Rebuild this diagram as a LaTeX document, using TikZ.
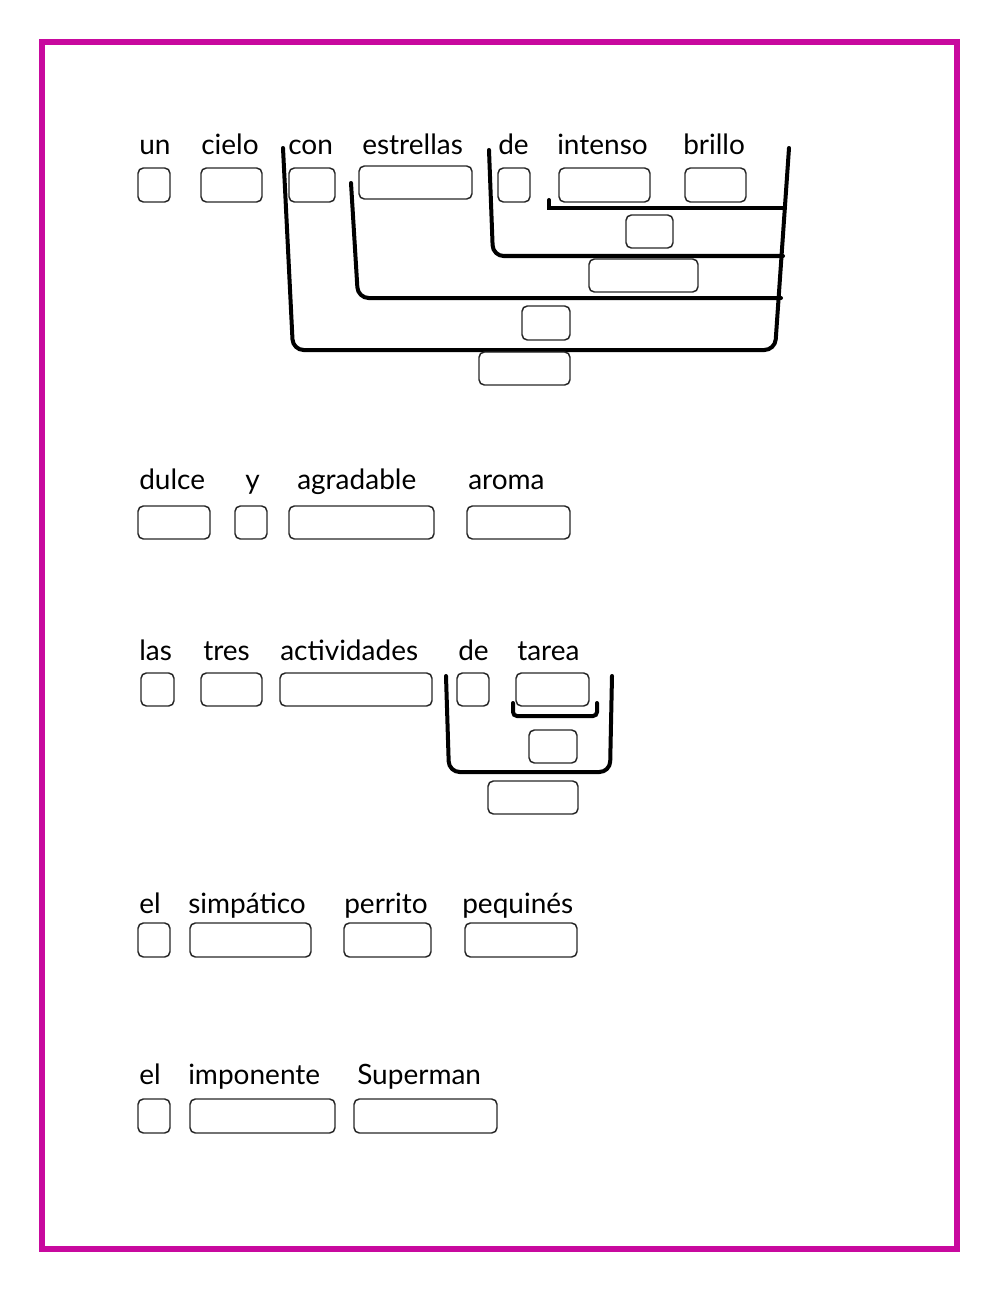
\documentclass[tikz,border=0pt]{standalone}
\usepackage{fontspec}
\setmainfont{Lato}
\begin{document}
\begin{tikzpicture}[x=0.75pt,y=-0.75pt,
  bx/.style={draw=black!85,line width=1.1pt,rounded corners=4pt},
  br/.style={line width=3pt,rounded corners=8pt,line cap=round},
  wd/.style={anchor=base west,inner sep=0pt,font=\fontsize{21}{24}\selectfont}]
\useasboundingbox (0,0) rectangle (1000,1291);
\definecolor{mag}{HTML}{C8099E}
\draw[mag,line width=4.5pt] (42,42) rectangle (957,1249);
\newcommand\bx[4]{\draw[bx] (#1,#2) rectangle (#3,#4);}
% row 1
\foreach \t/\x in {un/139,cielo/201,con/288,estrellas/362,de/498,intenso/557,brillo/683}
  \node[wd] (w1\t) at (\x,155) {\t};
\bx{138}{168}{170}{202}\bx{201}{168}{262}{202}\bx{289}{168}{335}{202}\bx{359}{166}{472}{199}
\bx{498}{168}{530}{202}\bx{559}{168}{650}{202}\bx{685}{168}{746}{202}
\draw[br] (283,148) -- (293,350) -- (775,350) -- (789,148);
\draw[br] (351,183) -- (358,298) -- (781,298);
\draw[br] (489,150) -- (493,256) -- (783,256);
\draw[br,rounded corners=0pt] (549,200) -- (549,208) -- (785,208);
\bx{626}{215}{673}{248}\bx{589}{259}{698}{292}\bx{522}{306}{570}{340}\bx{479}{352}{570}{385}
% row 2
\foreach \t/\x in {dulce/139,y/245,agradable/297,aroma/468}
  \node[wd] (w2\t) at (\x,489) {\t};
\bx{138}{506}{210}{539}\bx{235}{506}{267}{539}\bx{289}{506}{434}{539}\bx{467}{506}{570}{539}
% row 3
\foreach \t/\x in {las/139,tres/203,actividades/280,de/458,tarea/517}
  \node[wd] (w3\t) at (\x,660) {\t};
\bx{141}{673}{174}{706}\bx{201}{673}{262}{706}\bx{280}{673}{432}{706}\bx{457}{673}{489}{706}\bx{516}{673}{589}{706}
\draw[br] (446,676) -- (449,772) -- (610,772) -- (612,676);
\draw[br,rounded corners=3pt] (513,703) -- (513,716) -- (597,716) -- (597,703);
\bx{529}{730}{577}{763}\bx{488}{781}{578}{814}
% row 4
\node[wd] (w4a) at (139,913) {el};
\node[wd] (w4b) at (188,913) {simpático};
\node[wd] (w4c) at (344,913) {perrito};
\node[wd] (w4d) at (462,913) {pequinés};
\bx{138}{923}{170}{957}\bx{190}{923}{311}{957}\bx{344}{923}{431}{957}\bx{465}{923}{577}{957}
% row 5
\node[wd] (w5a) at (139,1084) {el};
\node[wd] (w5b) at (188,1084) {imponente};
\node[wd] (w5c) at (357,1084) {Superman};
\bx{138}{1099}{170}{1133}\bx{190}{1099}{335}{1133}\bx{354}{1099}{497}{1133}
\end{tikzpicture}
\end{document}
